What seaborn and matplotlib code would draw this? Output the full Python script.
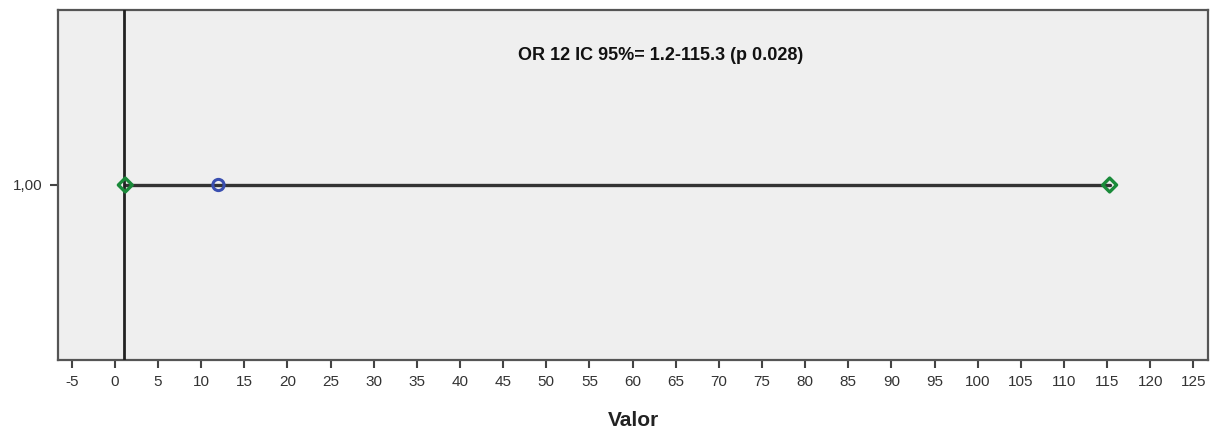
import pandas as pd
import numpy as np
import matplotlib
matplotlib.use('Agg')
import matplotlib.pyplot as plt
import seaborn as sns

# values
odds_ratio = [12.0]
ci_low = [1.2]
ci_high = [115.3]
row = [1.0]
ref_line = 1.0
label = 'OR 12 IC 95%= 1.2-115.3 (p 0.028)'
xticks = list(range(-5, 130, 5))

sns.set_style('ticks')
plt.rcParams['font.family'] = ['Liberation Sans', 'DejaVu Sans']

fig = plt.figure(figsize=(12.17, 4.38), dpi=100)
ax = fig.add_axes([58/1217, 78/438, 1150/1217, 350/438])
ax.set_facecolor('#efefef')

ci = pd.DataFrame({'x': ci_low + ci_high, 'y': row + row})
sns.lineplot(data=ci, x='x', y='y', color='#333333', linewidth=2.4, ax=ax, zorder=2)
ax.axvline(ref_line, color='#222222', linewidth=2, zorder=3)
sns.scatterplot(data=ci, x='x', y='y', marker='D', s=50, facecolor='none',
                edgecolor='#1a8a3a', linewidth=2.4, ax=ax, zorder=4)
pt = pd.DataFrame({'x': odds_ratio, 'y': row})
sns.scatterplot(data=pt, x='x', y='y', marker='o', s=65, facecolor='none',
                edgecolor='#3a4fb0', linewidth=2.2, ax=ax, zorder=4)

ax.text(63.2, 1.37, label, fontsize=13, fontweight='bold', ha='center', va='center', color='#111111')

ax.set_xlim(-6.6, 126.7)
ax.set_ylim(0.5, 1.5)
ax.set_xticks(xticks)
ax.set_xticklabels([str(t) for t in xticks])
ax.set_yticks([1.0])
ax.set_yticklabels(['1,00'])
ax.tick_params(axis='both', colors='#444444', labelsize=11, length=6, width=1.5, labelcolor='#333333', pad=5)
for s in ax.spines.values():
    s.set_color('#555555')
    s.set_linewidth(1.6)
ax.set_xlabel('Valor', fontsize=15, fontweight='bold', color='#222222', labelpad=16)
ax.set_ylabel('')

plt.savefig('out.png', dpi=100)
